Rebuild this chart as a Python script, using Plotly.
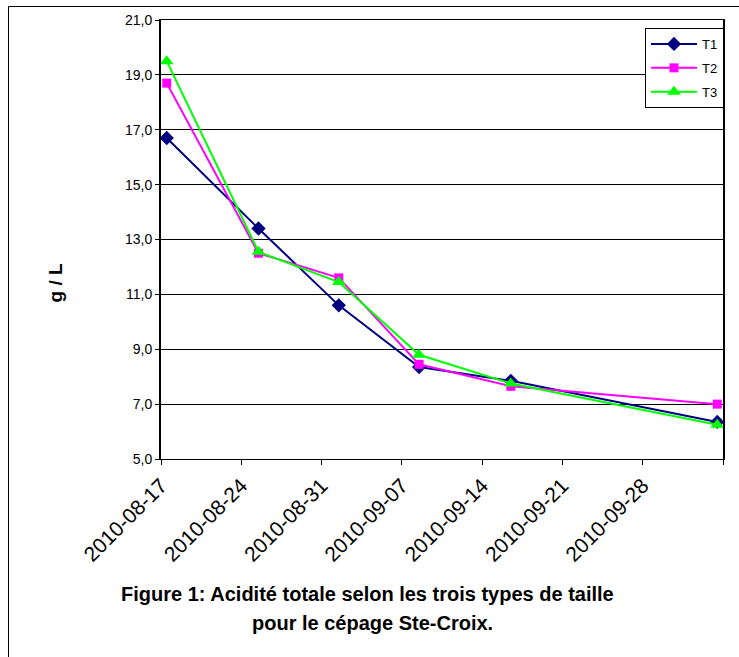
import pandas as pd
import plotly.graph_objects as go

# Sampling dates and total acidity (g/L) for each pruning type
dates = ["2010-08-17", "2010-08-25", "2010-09-01", "2010-09-08", "2010-09-16", "2010-10-04"]
t1 = [16.7, 13.4, 10.6, 8.35, 7.85, 6.35]
t2 = [18.7, 12.5, 11.6, 8.45, 7.65, 7.0]
t3 = [19.5, 12.55, 11.45, 8.8, 7.75, 6.25]

series_names = ["T1", "T2", "T3"]
y_ticks = [5, 7, 9, 11, 13, 15, 17, 19, 21]
x_tick_dates = ["2010-08-17", "2010-08-24", "2010-08-31", "2010-09-07",
                "2010-09-14", "2010-09-21", "2010-09-28", "2010-10-05"]
x_tick_labels = ["2010-08-17", "2010-08-24", "2010-08-31", "2010-09-07",
                 "2010-09-14", "2010-09-21", "2010-09-28", ""]

FONT = "Liberation Sans, Arial, sans-serif"

# plot area in pixels
W, H = 739, 657
L, R, T, B = 161, 723, 20, 459


def px_x(x):
    return (x - L) / (R - L)


def px_y(y):
    return (B - y) / (B - T)


# points sit in the middle of their day on the date axis
x_vals = pd.to_datetime(dates) + pd.Timedelta(hours=12)

styles = [
    dict(color="#000080", symbol="diamond", size=11),
    dict(color="#FF00FF", symbol="square", size=9),
    dict(color="#00FF00", symbol="triangle-up", size=12),
]

fig = go.Figure()
for name, vals, st in zip(series_names, [t1, t2, t3], styles):
    fig.add_trace(go.Scatter(
        x=x_vals, y=vals, name=name, mode="lines+markers",
        legendgroup=name,
        line=dict(color=st["color"], width=2),
        marker=dict(color=st["color"], symbol=st["symbol"], size=st["size"],
                    line=dict(width=0)),
    ))

fig.update_layout(
    width=W, height=H,
    margin=dict(l=L, r=W - R, t=T, b=H - B),
    paper_bgcolor="white", plot_bgcolor="white",
    separators=", ",
    font=dict(family=FONT, size=13, color="black"),
    showlegend=True,
    legend=dict(
        x=px_x(645), y=px_y(28), xanchor="left", yanchor="top",
        bgcolor="white", bordercolor="black", borderwidth=1,
        font=dict(family=FONT, size=13, color="black"),
        itemwidth=46, tracegroupgap=4,
    ),
    xaxis=dict(
        type="date",
        range=[pd.Timestamp(x_tick_dates[0]), pd.Timestamp(x_tick_dates[-1])],
        tickmode="array", tickvals=pd.to_datetime(x_tick_dates), ticktext=x_tick_labels,
        tickangle=-45, ticks="outside", ticklen=5, tickcolor="black",
        showgrid=False, zeroline=False,
        showline=True, linecolor="black", linewidth=1, mirror=True,
        tickfont=dict(family=FONT, size=21, color="black"),
    ),
    yaxis=dict(
        range=[5, 21], tickmode="array", tickvals=y_ticks,
        tickformat=".1f", ticks="outside", ticklen=4, tickcolor="black",
        ticklabelstandoff=0,
        showgrid=True, gridcolor="black", gridwidth=1, zeroline=False,
        showline=True, linecolor="black", linewidth=2, mirror=True,
        tickfont=dict(family=FONT, size=14, color="black"),
    ),
    annotations=[
        dict(text="<b>g / L</b>", textangle=-90, xref="paper", yref="paper",
             x=px_x(42), y=px_y(283), showarrow=False,
             font=dict(family=FONT, size=19, color="black")),
        dict(text="<b>Figure 1: Acidité totale selon les trois types de taille</b>",
             xref="paper", yref="paper", x=px_x(367), y=px_y(607), showarrow=False,
             font=dict(family=FONT, size=20, color="black")),
        dict(text="<b>pour le cépage Ste-Croix.</b>",
             xref="paper", yref="paper", x=px_x(372), y=px_y(636), showarrow=False,
             font=dict(family=FONT, size=20, color="black")),
    ],
    shapes=[
        dict(type="rect", xref="paper", yref="paper",
             x0=px_x(8.5), x1=px_x(800), y0=px_y(760), y1=px_y(6.5),
             line=dict(color="black", width=1), fillcolor="rgba(0,0,0,0)",
             layer="below"),
    ],
)

fig.write_html("out.html")
